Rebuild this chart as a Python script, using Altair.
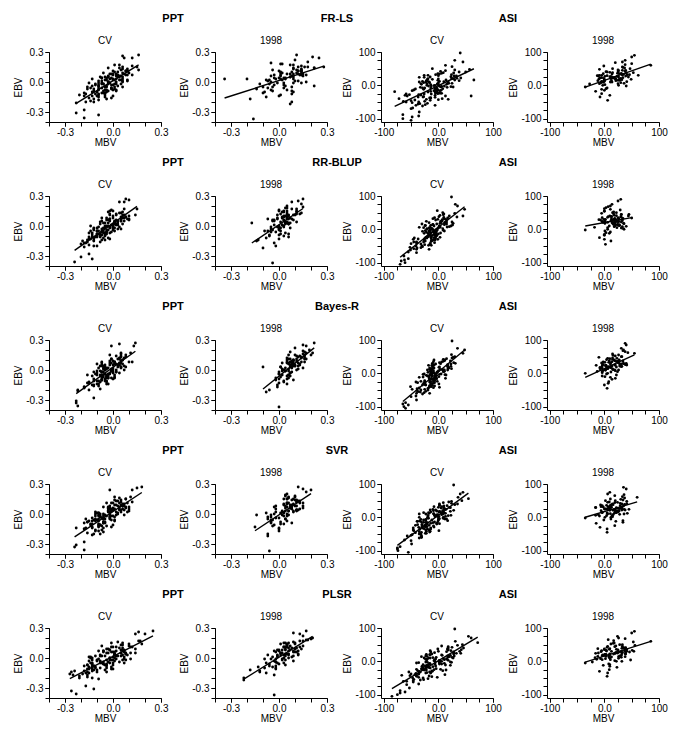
import altair as alt
import pandas as pd

FONT = "Liberation Sans"
MODELS = ["FR-LS", "RR-BLUP", "Bayes-R", "SVR", "PLSR"]

# ---------------- EBV (observed), shared by all models ----------------
# PPT values are in hundredths
EBV_PPT_CV = [
    -9, 4, -2, 14, -17, 0, 6, -11, -5, 9,
    -19, 2, -7, 17, -3, -13, 8, 1, -28, 5,
    11, -8, -2, 24, -14, 3, -5, 7, -20, -1,
    15, -10, 5, -6, -36, 2, 11, -4, -16, 8,
    -8, 26, -12, 0, 5, -18, 13, -2, 7, -11,
    2, -33, 10, -5, -14, 16, -1, -9, 6, -20,
    27, -3, -15, 4, 12, -7, -2, 8, -11, 1,
    -17, 9, -5, 14, 2, -8, -31, 5, -6, 11,
    -2, 24, -13, 3, -10, 7, -4, -21, 8, 0,
    -7, 5, 11, -14, -2, 17, -5, 2, -11, 6,
    -4, 2, -8, 6, -12, 0, 3, -6, 9, -2,
    -15, 5, -3, 12, -9, 1, -5, 7, -10, 4,
    -1, -7, 10, -13, 3, -4, 8, -11, 0, 6,
    -6, 13, -2, -16, 4, -8, 2, -3, 11, -12,
    1, -9, 5, -5, 15, -1, -14, 7, -7, 3,
]
EBV_PPT_1998 = [
    5, -5, 11, 17, -1, 8, -11, 3, 15, -7,
    24, 7, -15, 1, 12, -3, 9, -20, 4, 16,
    0, 11, -9, 7, 27, -5, 3, 14, -13, 10,
    6, -37, 18, -1, 8, -8, 13, 2, -12, 22,
    9, -2, 15, 7, -17, 11, -4, 4, 25, -6,
    3, 14, -9, 10, 7, -14, 19, 1, 12, -1,
    8, -10, 5, 17, -22, 11, 3, -5, 15, 6,
    6, 2, 10, -3, 14, 4, -6, 8, 1, 12,
    -1, 7, 3, 18, -8, 5, 9, 0, 13, -4,
    4, 11, -10, 6, 2, 15, -2, 8, 20, 3,
]
EBV_ASI_CV = [
    -16, 12, -36, 32, -4, -56, 18, -24, 6, -48,
    44, -10, -68, 24, -30, 4, -44, 14, -20, 56,
    -6, -38, 28, 0, -95, 10, -26, 38, -14, -52,
    20, -34, 50, -2, -62, 8, -22, 30, -42, 2,
    -12, 75, -48, 16, -28, -105, 36, -8, 22, -58,
    5, -32, 42, -18, -88, 11, -40, 26, 97, -2,
    -24, 13, -54, 34, -5, -46, 19, -29, 46, -11,
    -92, 6, -35, 24, -19, -60, 14, -3, 60, -38,
    10, -26, 37, -50, -8, 21, -80, 3, -21, 29,
    -43, 16, -13, 70, -32, -100, 7, -16, 40, -1,
    -10, 5, -25, 18, -40, -2, 10, -18, 28, -32,
    0, -15, 35, -50, -5, 12, -28, 22, -8, -38,
    8, -20, 40, -12, -60, 3, -30, 15, -45, 25,
    -6, -35, 30, -22, 2, -70, 16, -14, 48, -26,
    -3, 20, -42, 6, -16, 32, -55, 10, -24, -8,
]
EBV_ASI_1998 = [
    20, 35, 5, 50, 25, -10, 40, 15, 60, 28,
    10, 45, -25, 30, 18, 70, 0, 38, 22, 55,
    12, -45, 32, 85, 26, 8, 48, -5, 36, 16,
    65, 24, -18, 42, 30, 2, 52, 14, 90, 34,
    -30, 27, 44, 6, 58, 21, -8, 39, 17, 75,
    29, 11, -15, 46, 23, 62, 4, 33, 19, -35,
    37, 9, 54, 25, -2, 41, 13, 68, 31, 22,
    22, 30, 15, 40, 8, 26, 18, 35, 12, 28,
    20, 45, 5, 24, 32, 16, 38, 0, 27, 19,
    25, 10, 33, 21, 50, 14, 29, -12, 23, 36,
]

# ---------------- MBV (predicted) per model ----------------
MBV_PPT_CV_FRLS = [
    -6, -7, 1, 4, -4, -3, -3, -6, 1, -6,
    -14, 5, -9, 1, 0, -9, -1, 9, -18, 3,
    0, -5, 5, 7, -13, 6, -16, 3, -12, -7,
    15, -10, -5, -1, -18, -4, 9, -13, -1, 2,
    -4, 6, -9, 6, -8, -9, 6, -7, 9, -7,
    -5, -9, 3, -5, -18, 12, -15, -3, 4, -17,
    16, -9, -9, -1, 16, -12, -3, 0, -5, -9,
    -12, 10, -9, -3, 1, 0, -23, 6, -7, 8,
    -11, 12, -5, -2, -13, 12, -4, -23, 7, -3,
    1, -3, 8, 0, -6, 4, -4, 4, -18, 2,
    -9, 9, -9, 3, -17, 2, -13, -1, 6, -6,
    -5, -3, -1, 5, 2, -7, -5, 0, -4, -7,
    -2, -1, 1, -21, 2, 3, -2, -5, -3, 5,
    -14, 9, 2, -15, -4, 2, 0, -11, 9, -11,
    6, -12, 4, 6, 6, -9, -10, 8, -16, 0,
]
MBV_PPT_CV_RRBLUP = [
    -8, -8, 0, 6, -18, -5, 10, -8, -10, 8,
    -15, 1, -13, 7, 3, -15, 0, 2, -15, -7,
    6, -8, 0, 4, -5, 1, -14, -2, -10, -2,
    0, -5, -2, -7, -24, 6, 2, -3, -16, 7,
    -10, 10, -6, -14, 3, -20, 5, -6, 9, -13,
    0, -13, 0, -7, -7, -1, 4, -7, -4, -12,
    8, 5, -19, 3, 2, -6, 1, -4, -11, 3,
    -17, 5, -6, -3, 3, -9, -20, 7, -4, -2,
    -2, 7, -2, -5, -8, 5, -12, -18, 6, -3,
    -15, 5, 7, -16, -5, 15, -9, 2, -15, 2,
    -4, -8, -4, -2, -3, -4, -6, -4, 8, -12,
    -12, 5, -7, -2, -5, -1, -10, 10, -10, 1,
    -9, -5, 10, -14, -3, 0, -7, -10, 0, -3,
    -1, 4, -10, -8, 1, -10, 2, -12, 14, -12,
    0, -13, 1, 1, -2, 0, -12, -2, -2, 1,
]
MBV_PPT_CV_BAYESR = [
    -12, 7, -6, 5, -18, 0, -10, -5, -4, 0,
    -8, -6, -4, 5, 4, -15, 1, -5, -12, -7,
    4, -3, -7, -1, -9, 5, -10, 4, -15, -1,
    -2, -7, 4, -8, -22, 5, 3, -11, -9, 1,
    -1, 4, -8, 7, -2, -18, 5, 0, -7, -9,
    0, -23, 6, -8, -3, 5, -8, -5, 6, -22,
    14, 0, -13, -7, 7, -6, -7, 10, -10, -1,
    -18, 5, 1, 2, -4, -3, -23, 0, -3, -1,
    2, 13, -16, 3, -7, -2, -2, -22, 12, -5,
    -4, -5, 4, -4, -12, 11, -6, -5, -4, 2,
    -5, -9, -4, 1, -15, -5, 8, -4, -2, 2,
    -12, 3, -10, 4, 0, -6, -7, 5, -7, -8,
    -1, -7, 6, -15, 5, -3, -7, -12, 2, 1,
    -13, 8, -7, -12, -6, 1, -3, -2, -1, -4,
    -4, -7, 4, -16, 8, -10, -10, -1, 1, -5,
]
MBV_PPT_CV_SVR = [
    -6, 5, -8, 5, -9, -11, 8, -9, -11, 5,
    -16, 9, -15, 11, -8, -9, 6, -9, -18, 6,
    -1, -5, -4, -2, -6, -3, -9, 8, -12, -9,
    8, -9, 10, -10, -18, 2, -4, -7, -7, 3,
    -16, 15, -7, -8, -1, -6, 2, 0, -6, -8,
    -2, -24, 7, -5, -17, 4, 7, -6, -3, -8,
    18, -2, -18, 0, 12, -11, -6, 6, -8, -10,
    -11, 2, -2, 1, 5, -6, -23, -3, -1, 4,
    -11, 12, -13, -1, -14, 10, -6, -13, -2, 3,
    -9, 1, 9, -23, -1, 1, -6, -3, 0, -3,
    -2, -11, -6, 0, -4, -6, 10, -12, 1, -2,
    -18, 4, -8, 5, -18, 3, -6, 4, -13, 7,
    -5, -13, 6, -1, -3, -13, 7, -14, -2, -2,
    1, 3, -9, -11, 4, -16, -2, 1, 0, -9,
    -9, -5, -2, -17, 8, 2, -13, -3, 1, -1,
]
MBV_PPT_CV_PLSR = [
    -11, 8, -10, 10, -25, -2, 7, -15, -14, 14,
    -16, -8, -5, 17, -10, -13, 7, -15, -17, -3,
    12, -12, -13, 14, -10, -8, 7, 2, -21, 2,
    -1, -8, 8, -13, -23, 2, -1, 4, -27, 5,
    -12, 16, -12, -13, 11, -21, 6, 0, -6, -13,
    3, -26, 6, -7, -4, 3, 11, -15, -1, -13,
    25, 1, -17, 1, -7, 0, -4, 6, -16, 7,
    -16, -4, -2, 18, -5, -18, -12, -4, -6, 0,
    6, 20, -18, 1, -4, -9, -6, -9, -2, -2,
    -16, 5, 2, -26, -2, 16, -8, -7, 0, 1,
    -3, 5, -13, 0, -5, -14, 9, -6, -3, -1,
    -15, 14, -15, 10, -13, 0, 0, -6, -11, 8,
    -9, -4, 4, -24, 6, -8, -2, -1, 1, -6,
    -4, 5, 8, -19, 1, -4, -11, -8, 11, -10,
    -14, -1, 5, -13, 6, 7, -16, 7, -16, 1,
]

MBV_PPT_1998_FRLS = [
    7, -10, 14, 7, 14, 5, -10, 9, 28, -14,
    25, 13, -8, -7, 14, 3, 1, 8, 4, 14,
    -5, 12, 8, 1, 11, 8, -20, 9, 1, 1,
    15, -16, 2, 9, 9, -5, 14, -8, 8, 10,
    11, -6, 12, 17, -18, 14, 22, 0, 21, 3,
    -34, 22, -4, 8, -3, 0, -5, 10, 11, -1,
    15, -9, 9, 9, 7, 0, 4, -4, 16, -5,
    8, -6, 14, -3, 22, 3, -7, 12, 12, -4,
    3, 14, 1, 1, 5, 7, 2, 17, 9, 4,
    -3, 12, 9, 1, 2, 18, -12, 7, 18, -2,
]
MBV_PPT_1998_RRBLUP = [
    3, -9, 9, 8, -5, 2, 6, 4, 3, 4,
    8, 6, -14, 2, 13, -5, 3, -2, 4, 0,
    3, 5, 0, -1, 15, 1, -17, 3, 0, 6,
    -4, -4, 5, 0, -1, 6, 5, 4, -8, 14,
    2, 1, 11, -7, -3, -1, 0, 1, 12, -5,
    4, 11, -6, 4, 8, -13, 15, 2, 1, 3,
    2, 3, -4, 11, -10, 6, 6, -7, 5, 9,
    -3, 6, 3, 0, 2, 11, -2, 7, -3, 11,
    -1, 5, 7, 4, 1, -3, 5, 0, 14, -4,
    5, 10, -6, 3, 6, 0, 7, 5, 5, 5,
]
MBV_PPT_1998_BAYESR = [
    13, 2, 6, 17, 6, 7, 3, 1, 20, 1,
    17, 5, -1, 12, 5, 7, 9, -6, 12, 15,
    3, 17, 0, 9, 22, 6, -10, 16, 0, 9,
    13, 0, 16, 4, 16, -2, 12, 4, 3, 10,
    11, 8, 10, 2, -1, 16, 0, 10, 15, 5,
    1, 13, 5, 9, 6, 5, 15, 2, 14, 4,
    14, -2, 10, 21, -8, 7, 8, 6, 6, 8,
    8, 15, 5, 7, 11, 9, 7, 5, 6, 16,
    2, 12, 7, 7, 6, 7, 8, 11, 14, 0,
    10, 11, 9, 6, 8, 16, 0, 8, 19, 8,
]
MBV_PPT_1998_SVR = [
    -2, 4, 5, 10, -14, 15, -3, 6, 5, 5,
    20, 7, 0, -8, 11, -5, 7, -7, 12, 6,
    5, 13, -5, 5, 12, -7, 11, 10, -15, 9,
    4, -6, 4, 6, 4, 1, 13, -2, -4, 17,
    3, 5, 9, -3, 0, 6, -2, 11, 15, -5,
    6, 8, 8, 3, 7, 0, 4, 1, 13, 2,
    -2, 3, 8, 6, -7, 15, 2, 4, 3, 7,
    7, 9, 5, -7, 11, 11, -4, 10, 3, 11,
    -5, 8, 9, 10, -5, 13, 8, -3, 12, 0,
    11, 5, 1, 15, 2, 5, 3, 11, 5, 4,
]
MBV_PPT_1998_PLSR = [
    2, 3, 3, 15, -9, 7, -2, -1, 4, 4,
    13, 0, -8, 8, 5, -3, 10, -22, 4, 9,
    6, 5, -13, 9, 17, -8, 12, 10, -12, 11,
    -2, -3, 18, -5, 4, -2, 5, 9, -18, 15,
    4, 4, 10, -3, -3, 4, -2, 6, 9, -6,
    6, 1, -4, 6, 12, -12, 20, -4, 7, 2,
    0, -2, 1, 13, -22, 13, 3, -1, 6, 11,
    9, -1, 8, 9, 5, 5, 0, -1, -1, 15,
    -2, 6, -7, 17, -6, 1, 14, 3, 5, -2,
    12, 3, -9, 10, 4, 3, 2, 2, 21, 1,
]

MBV_ASI_CV_FRLS = [
    -8, -29, -6, -5, 23, -37, -20, -5, 19, -64,
    13, 8, -47, -26, -6, -2, -43, 38, -19, 25,
    -33, -14, 33, -21, -48, 18, -59, 9, -1, -48,
    27, -27, -11, 11, -29, -16, -2, -26, 18, -14,
    -2, 30, -25, 30, -53, -50, 6, -25, 24, -24,
    -21, 13, 4, -14, -65, 10, -72, 23, 40, -18,
    6, -20, -20, 2, 27, -50, 0, -32, 30, -42,
    -36, 17, -37, -35, -80, -6, -22, 6, 13, -14,
    -35, -13, 28, -36, -29, 34, -35, -31, -4, 0,
    0, 65, -5, 45, 60, -65, 0, 3, 50, -8,
    -6, -32, -1, -11, 7, -13, -23, -3, 29, -57,
    -6, 5, -1, -59, 5, 2, -36, 41, -14, -16,
    -27, -6, 38, -27, -41, 15, -61, -1, -15, -15,
    16, -28, -19, 2, 0, -50, 14, -45, 57, -26,
    2, -19, -22, 25, -48, 24, -34, -17, 3, -3,
]
MBV_ASI_CV_RRBLUP = [
    -15, -24, -13, 10, -24, -39, 27, -13, -15, -13,
    9, -4, -55, 4, -1, -17, -32, 11, -13, -2,
    -4, -27, 15, -21, -68, 2, -44, 1, 0, -29,
    -17, -12, 8, -9, -51, 20, -21, 13, -39, 8,
    -19, 31, -18, -30, -13, -70, 10, -16, 25, -45,
    0, -9, 3, -18, -55, -24, -7, 7, 24, -2,
    -23, 26, -52, 17, -17, -25, 13, -37, 10, 4,
    -62, 3, -24, -22, -3, -40, -10, 9, 48, -40,
    2, -21, 34, -41, -9, 12, -63, -12, -5, 7,
    -50, 15, -6, 35, -26, -61, 16, -4, 45, -4,
    -13, -27, -8, 3, -40, -15, 23, -11, -5, -6,
    -11, -7, -7, -30, 11, -14, -25, 15, -8, -45,
    3, -19, 20, -26, -17, -1, -46, -10, -15, 6,
    -29, -13, -1, -18, -21, -40, -3, -7, 30, -5,
    -15, 5, -15, -35, -7, -10, -32, -8, 3, -22,
]
MBV_ASI_CV_BAYESR = [
    -9, -16, -11, 2, 12, -33, -10, -9, 11, -48,
    15, 1, -41, -12, -10, -2, -35, 24, -16, 24,
    -22, -16, 23, -14, -55, 11, -41, 11, -4, -39,
    18, -24, 30, 5, -29, -9, -7, -11, 2, -9,
    -5, 35, -25, 19, -38, -60, 9, -17, 17, -26,
    -13, 1, 9, -13, -60, 7, -51, 17, 25, -12,
    -2, -11, -23, 6, 14, -39, 2, -25, 25, -28,
    -65, 10, -29, -18, -9, -16, -12, 2, 45, -16,
    -20, -14, 22, -32, -20, 23, -40, -19, -7, 4,
    -9, -8, -7, 48, -25, -63, 0, -3, -8, -6,
    -5, 9, -25, 1, -13, -26, 17, -11, -5, -14,
    -10, 13, -9, -19, -15, 3, -7, -11, -12, -7,
    -13, -7, 12, -35, -40, -9, -27, 18, -19, -8,
    -3, -23, 31, -25, -3, -50, -16, -17, 27, -16,
    -28, 17, -17, -15, -16, 28, -37, 9, -32, -6,
]
MBV_ASI_CV_SVR = [
    -10, 13, -34, 6, 2, -57, 22, -17, -19, -24,
    9, 17, -62, 14, -30, -2, -16, -18, -21, 55,
    -23, -17, 5, -35, -75, -8, -30, 30, -7, -48,
    8, -26, 43, -20, -35, 6, -38, 0, -15, -6,
    -38, 45, -22, -14, -24, -55, 2, 0, -15, -31,
    -6, -46, 24, -14, -70, -9, 1, 10, 28, 9,
    -23, 7, -50, 10, 12, -42, -3, -8, 19, -34,
    -75, -7, -14, -10, 2, -31, -27, -18, 36, -23,
    -23, -9, 2, -32, -27, 28, -49, 1, -30, 22,
    -35, 4, -1, 40, -14, -74, -3, -20, 35, -19,
    -23, 18, -25, 2, -45, 0, -35, -3, 10, -29,
    9, -27, 16, -35, 15, -17, -21, -5, 0, -46,
    -1, -3, 2, -39, -31, 13, -36, 10, -31, 12,
    -32, -20, 20, -23, -19, -50, 1, -31, 24, -24,
    9, -9, -22, 23, -22, -8, -31, 9, -42, -12,
]
MBV_ASI_CV_PLSR = [
    -20, 25, -41, 23, -36, -33, 22, -30, -23, -2,
    18, -28, -36, 33, -35, -7, -17, -31, -15, 72,
    11, -36, -14, 6, -70, -18, 14, 17, -24, -19,
    -16, -21, 44, -23, -46, 9, -31, 39, -67, 2,
    -21, 55, -36, -23, 8, -85, 17, 2, -12, -46,
    11, -54, 25, -17, -70, -10, 12, -7, 30, 2,
    -40, 18, -45, 18, -40, -12, 6, -12, 6, 13,
    -61, -21, -14, 41, -23, -64, 20, -20, 31, -36,
    27, -26, -1, -28, 6, -22, -53, 18, -28, 15,
    -52, 17, -20, 60, -16, -75, -5, -29, 46, -6,
    -18, -21, -8, 7, -43, 22, -26, -19, 28, -33,
    1, -30, 42, -47, 2, -4, -38, 28, -6, -50,
    15, -28, 18, 22, -58, 2, -11, -21, -40, 28,
    -16, -23, 0, -4, -8, -58, 29, -5, 35, -22,
    24, -15, -40, 16, -10, -15, -27, -15, 4, -15,
]

MBV_ASI_1998_FRLS = [
    21, -2, 25, 15, 44, 3, 5, 25, 85, -11,
    14, 39, -5, -5, 27, 33, -3, 53, 14, 33,
    -5, 6, 42, 50, 12, 30, -9, -35, 31, 0,
    50, 13, -16, 38, 62, 1, 37, -12, 55, 14,
    10, 1, 26, 36, -1, 30, 5, 10, 32, 38,
    5, 41, 0, 25, -5, 38, -27, 35, 20, -8,
    40, -2, 34, 13, 40, 3, 13, 20, 33, -8,
    16, -9, 28, 25, -6, 10, 49, 27, 0, 39,
    12, 33, -9, 18, 46, 0, 15, 26, 23, -10,
    26, 11, 32, -1, 47, 21, -13, -5, 34, 24,
]
MBV_ASI_1998_RRBLUP = [
    14, -4, 23, 22, 1, 3, 44, 19, 11, 32,
    9, 45, -9, 17, 35, 11, 6, 30, 19, 0,
    20, 2, 26, 25, 33, 18, -5, 1, 31, 16,
    3, 26, 0, 18, 2, 35, 17, 20, 30, 50,
    0, 19, 31, -18, 29, -3, 11, 13, 36, 14,
    21, 27, 0, 17, 26, 0, 31, 19, 1, 12,
    13, 40, 0, 25, -35, 22, 25, 7, 13, 31,
    19, -1, 24, 10, 33, 12, 1, 25, 28, -7,
    15, 31, 6, -4, 26, 16, 7, 36, 14, 19,
    1, 19, 34, 6, 15, 27, -10, 9, 23, 6,
]
MBV_ASI_1998_BAYESR = [
    31, 14, -4, 32, 19, 1, 27, -7, 55, 11,
    19, 6, 8, 35, -8, 35, -35, 9, 28, 26,
    2, 5, 12, 40, -2, 20, -10, 22, 21, 7,
    38, 3, 14, 15, 40, -4, 20, 6, 38, -2,
    7, 29, 10, -13, 15, 32, -4, 27, 12, 31,
    -4, 16, 20, 15, 3, 43, 12, 1, 22, 0,
    34, 2, 16, 41, 4, 4, 15, 34, -5, 14,
    -4, 27, 6, 18, -3, 39, 11, 24, 1, 31,
    8, 23, 24, -15, 25, -4, 19, 6, 38, 4,
    20, 26, 8, 13, 31, -8, 35, 11, 2, 24,
]
MBV_ASI_1998_SVR = [
    -6, 29, 4, 20, 0, 34, 15, 21, 60, 32,
    6, 24, 19, -16, 23, 6, 12, 13, 38, 11,
    18, 5, 7, 40, 27, -11, 41, 12, 4, 21,
    19, 45, -15, 29, 9, 15, 34, -4, 35, 35,
    -8, 24, 19, -16, 37, 10, -1, 37, 21, 10,
    22, 11, 34, 9, 18, 33, -9, 11, 27, 5,
    -7, 28, 30, 2, -35, 41, 5, 36, -2, 19,
    32, 13, -4, 32, 16, 8, 24, -4, 42, 11,
    22, 6, 14, 36, -6, 25, 16, 1, 30, 20,
    5, 36, 12, 16, 2, 22, -16, 21, 19, 11,
]
MBV_ASI_1998_PLSR = [
    10, 41, -4, 33, -11, 10, 37, 3, 85, 46,
    10, 6, 9, 41, 2, 26, 22, -12, 17, 18,
    31, 5, -5, 50, 22, -7, 56, -35, 9, 28,
    7, 20, 23, 5, 13, 19, 12, 38, 55, 25,
    -9, 33, 19, -14, 53, 1, 8, 32, -4, 24,
    30, -17, 10, 21, 38, 17, 48, 3, 9, 6,
    0, 26, 16, 20, -22, 39, 13, 38, 4, 39,
    10, 54, -12, 34, 2, 22, 31, 0, 9, 39,
    1, 33, 11, -16, 37, 8, 10, 32, 26, -3,
    24, 10, 51, 3, 28, 26, -6, -2, 32, 22,
]

PPT_MINOR = [-0.4, -0.3, -0.2, -0.1, 0.0, 0.1, 0.2, 0.3]
PPT_MAJOR = [-0.3, 0.0, 0.3]
ASI_MINOR = [-100, -75, -50, -25, 0, 25, 50, 75, 100]
ASI_MAJOR = [-100, 0, 100]
PPT_EXPR = "datum.value == 0 ? '0.0' : (datum.value > 0 ? '0.3' : '-0.3')"
ASI_EXPR = "datum.value == 0 ? '0.0' : (datum.value > 0 ? '100' : '-100')"

EBV = {
    ("PPT", "CV"): EBV_PPT_CV, ("PPT", "1998"): EBV_PPT_1998,
    ("ASI", "CV"): EBV_ASI_CV, ("ASI", "1998"): EBV_ASI_1998,
}
MBV = {
    ("FR-LS", "PPT", "CV"): MBV_PPT_CV_FRLS, ("FR-LS", "PPT", "1998"): MBV_PPT_1998_FRLS,
    ("FR-LS", "ASI", "CV"): MBV_ASI_CV_FRLS, ("FR-LS", "ASI", "1998"): MBV_ASI_1998_FRLS,
    ("RR-BLUP", "PPT", "CV"): MBV_PPT_CV_RRBLUP, ("RR-BLUP", "PPT", "1998"): MBV_PPT_1998_RRBLUP,
    ("RR-BLUP", "ASI", "CV"): MBV_ASI_CV_RRBLUP, ("RR-BLUP", "ASI", "1998"): MBV_ASI_1998_RRBLUP,
    ("Bayes-R", "PPT", "CV"): MBV_PPT_CV_BAYESR, ("Bayes-R", "PPT", "1998"): MBV_PPT_1998_BAYESR,
    ("Bayes-R", "ASI", "CV"): MBV_ASI_CV_BAYESR, ("Bayes-R", "ASI", "1998"): MBV_ASI_1998_BAYESR,
    ("SVR", "PPT", "CV"): MBV_PPT_CV_SVR, ("SVR", "PPT", "1998"): MBV_PPT_1998_SVR,
    ("SVR", "ASI", "CV"): MBV_ASI_CV_SVR, ("SVR", "ASI", "1998"): MBV_ASI_1998_SVR,
    ("PLSR", "PPT", "CV"): MBV_PPT_CV_PLSR, ("PLSR", "PPT", "1998"): MBV_PPT_1998_PLSR,
    ("PLSR", "ASI", "CV"): MBV_ASI_CV_PLSR, ("PLSR", "ASI", "1998"): MBV_ASI_1998_PLSR,
}
for (m, t, s), arr in MBV.items():
    assert len(arr) == len(EBV[(t, s)]), (m, t, s, len(arr), len(EBV[(t, s)]))

W, H = 112, 70
# annotation offsets (pixels, relative to each panel's plot area)
HEADER_X = {0: 124, 1: 122, 2: 127}
HEADER_Y = -33
SUBTITLE_Y = -11


def text_layer(label, x, y, size, weight):
    return alt.Chart(pd.DataFrame({"label": [label]})).mark_text(
        fontSize=size, fontWeight=weight, font=FONT, baseline="middle",
        align="center", color="black",
    ).encode(x=alt.value(x), y=alt.value(y), text="label:N")


def make_panel(model, trait, set_name, col):
    div = 100.0 if trait == "PPT" else 1.0
    df = pd.DataFrame({
        "MBV": [v / div for v in MBV[(model, trait, set_name)]],
        "EBV": [v / div for v in EBV[(trait, set_name)]],
    })
    if trait == "PPT":
        xdom, ydom, minor, major, expr = [-0.4, 0.3], [-0.4, 0.3], PPT_MINOR, PPT_MAJOR, PPT_EXPR
    else:
        xdom, ydom, minor, major, expr = [-105, 100], [-110, 100], ASI_MINOR, ASI_MAJOR, ASI_EXPR
    xs = alt.Scale(domain=xdom, nice=False, zero=False)
    ys = alt.Scale(domain=ydom, nice=False, zero=False)

    pts = alt.Chart(df).mark_circle(size=8, color="black", opacity=1).encode(
        x=alt.X("MBV:Q", scale=xs, axis=alt.Axis(
            orient="bottom", values=minor, labels=False, title=None, grid=False,
            tickSize=4, domain=True)),
        y=alt.Y("EBV:Q", scale=ys, axis=alt.Axis(
            orient="left", values=minor, labels=False, title=None, grid=False,
            tickSize=4, domain=True)),
    )
    line = (
        alt.Chart(df)
        .transform_regression("MBV", "EBV")
        .mark_line(color="black", strokeWidth=1.4)
        .encode(
            x=alt.X("MBV:Q", scale=xs, axis=alt.Axis(
                orient="bottom", values=major, labelExpr=expr, title="MBV", grid=False,
                tickSize=4, labelPadding=1, titlePadding=0, labelOverlap=False,
                labelFlush=False, labelBound=False, domain=False)),
            y=alt.Y("EBV:Q", scale=ys, axis=alt.Axis(
                orient="left", values=major, labelExpr=expr, title="EBV", grid=False,
                tickSize=4, labelPadding=2, titlePadding=2, labelOverlap=False,
                labelFlush=False, labelBound=False, domain=False)),
        )
    )
    layers = [pts, line, text_layer(set_name, W / 2, SUBTITLE_Y, 10, "normal")]
    if col in HEADER_X:
        label = {0: "PPT", 1: model, 2: "ASI"}[col]
        layers.append(text_layer(label, HEADER_X[col], HEADER_Y, 11, "bold"))
    return alt.layer(*layers).resolve_axis(x="independent", y="independent").properties(
        width=W, height=H,
    )


panels = []
for m in MODELS:
    for col, (t, s) in enumerate([("PPT", "CV"), ("PPT", "1998"), ("ASI", "CV"), ("ASI", "1998")]):
        panels.append(make_panel(m, t, s, col))

chart = (
    alt.concat(*panels, columns=4, spacing={"row": 74, "column": 54}, bounds="flush")
    .properties(padding={"left": 5, "top": 5, "right": 5, "bottom": 5})
    .configure_view(stroke=None)
    .configure_axis(
        domainColor="black", domainWidth=1, tickColor="black", tickWidth=1,
        labelColor="black", titleColor="black", labelFont=FONT, titleFont=FONT,
        labelFontSize=10, titleFontSize=10, titleFontWeight="normal",
    )
)

chart.save("out.html", embed_options={"renderer": "svg", "actions": False})
